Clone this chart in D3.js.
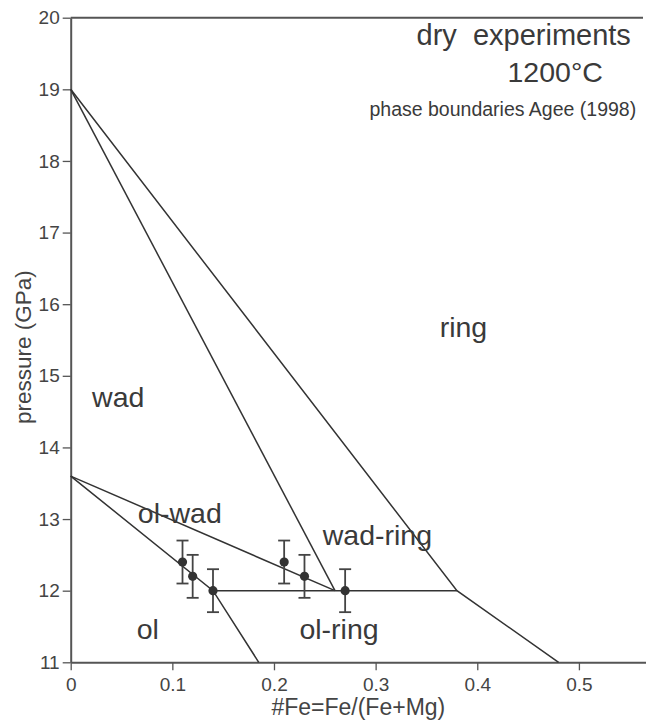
<!DOCTYPE html>
<html>
<head>
<meta charset="utf-8">
<script src="https://cdn.jsdelivr.net/npm/d3@7"></script>
<style>
  body { margin: 0; background: #fff; }
  svg { display: block; font-family: "Liberation Sans", Arial, Helvetica, sans-serif; }
  .axis path, .axis line { stroke: #555; }
  .axis text { fill: #444; font-size: 19px; }
</style>
</head>
<body>
<div id="chart"></div>
<script>
// phase boundaries (Agee 1998), #Fe vs pressure
let ringUpperFe = [0, 0.38, 0.48];
let ringUpperP = [19, 12, 11];
let wadRingFe = [0, 0.26];
let wadRingP = [19, 12];
let olWadFe = [0, 0.26];
let olWadP = [13.6, 12];
let olLowerFe = [0, 0.14, 0.185];
let olLowerP = [13.6, 12, 11];
let isobarFe = [0.14, 0.38];
let isobarP = [12, 12];

// dry experiments
let expFe = [0.11, 0.12, 0.14, 0.21, 0.23, 0.27];
let expP = [12.4, 12.2, 12.0, 12.4, 12.2, 12.0];
let expErr = [0.3, 0.3, 0.3, 0.3, 0.3, 0.3];

let xTicks = [0, 0.1, 0.2, 0.3, 0.4, 0.5];
let yTicks = [11, 12, 13, 14, 15, 16, 17, 18, 19, 20];

let regionNames = ["wad", "ol-wad", "wad-ring", "ring", "ol", "ol-ring"];
let regionFe = [0.021, 0.066, 0.248, 0.363, 0.065, 0.225];
let regionP = [14.56, 12.94, 12.64, 15.54, 11.32, 11.32];

// set the dimensions and margins of the graph
let margin = { top: 17.7, right: 0, bottom: 59.7, left: 70.7 };
let totalW = 646, totalH = 722;
let width = totalW - margin.left - margin.right;
let height = totalH - margin.top - margin.bottom;

let svg = d3.select("#chart").append("svg")
    .attr("width", totalW)
    .attr("height", totalH)
    .append("g")
    .attr("transform", "translate(" + margin.left + "," + margin.top + ")");

let x = d3.scaleLinear().domain([0, 0.566]).range([0, width]);
let y = d3.scaleLinear().domain([11, 20]).range([height, 0]);

// axes
svg.append("g")
    .attr("class", "axis")
    .attr("transform", "translate(0," + height + ")")
    .call(d3.axisBottom(x).tickValues(xTicks).tickSize(8).tickSizeOuter(0).tickPadding(7)
        .tickFormat(d => d === 0 ? "0" : d3.format(".1f")(d)));

svg.append("g")
    .attr("class", "axis")
    .call(d3.axisLeft(y).tickValues(yTicks).tickSize(8).tickSizeOuter(0).tickPadding(3));

svg.selectAll(".axis path").attr("stroke-width", 2);
svg.selectAll(".axis line").attr("stroke-width", 1.3);

// top frame
svg.append("line")
    .attr("x1", x(0)).attr("x2", width - 3)
    .attr("y1", y(20)).attr("y2", y(20))
    .attr("stroke", "#555").attr("stroke-width", 2);

// boundaries
let line = d3.line().x(d => x(d[0])).y(d => y(d[1]));
let boundaries = [
    [ringUpperFe, ringUpperP],
    [wadRingFe, wadRingP],
    [olWadFe, olWadP],
    [olLowerFe, olLowerP],
    [isobarFe, isobarP]
];
svg.selectAll(".boundary")
    .data(boundaries.map(b => b[0].map((f, i) => [f, b[1][i]])))
    .join("path")
    .attr("class", "boundary")
    .attr("d", line)
    .attr("fill", "none")
    .attr("stroke", "#333")
    .attr("stroke-width", 1.5);

// experiments with error bars
let pts = expFe.map((f, i) => ({ fe: f, p: expP[i], e: expErr[i] }));
let bars = svg.selectAll(".err").data(pts).join("g").attr("class", "err")
    .attr("stroke", "#444").attr("stroke-width", 1.8);
bars.append("line")
    .attr("x1", d => x(d.fe)).attr("x2", d => x(d.fe))
    .attr("y1", d => y(d.p + d.e)).attr("y2", d => y(d.p - d.e));
bars.append("line")
    .attr("x1", d => x(d.fe) - 6).attr("x2", d => x(d.fe) + 6)
    .attr("y1", d => y(d.p + d.e)).attr("y2", d => y(d.p + d.e));
bars.append("line")
    .attr("x1", d => x(d.fe) - 6).attr("x2", d => x(d.fe) + 6)
    .attr("y1", d => y(d.p - d.e)).attr("y2", d => y(d.p - d.e));
svg.selectAll(".pt").data(pts).join("circle")
    .attr("class", "pt")
    .attr("cx", d => x(d.fe)).attr("cy", d => y(d.p))
    .attr("r", 4.6)
    .attr("fill", "#333");

// region labels
svg.selectAll(".region").data(regionNames).join("text")
    .attr("class", "region")
    .attr("x", (d, i) => x(regionFe[i]))
    .attr("y", (d, i) => y(regionP[i]))
    .attr("font-size", 28.5)
    .attr("fill", "#3a3a3a")
    .text(d => d);

// title block
svg.append("text")
    .attr("x", 453).attr("y", 27)
    .attr("text-anchor", "middle")
    .attr("font-size", 29)
    .attr("fill", "#3a3a3a")
    .style("white-space", "pre")
    .text("dry  experiments");
svg.append("text")
    .attr("x", 484.5).attr("y", 64.5)
    .attr("text-anchor", "middle")
    .attr("font-size", 28.5)
    .attr("fill", "#3a3a3a")
    .text("1200°C");
svg.append("text")
    .attr("x", 565.5).attr("y", 98.5)
    .attr("text-anchor", "end")
    .attr("font-size", 19.5)
    .attr("fill", "#3a3a3a")
    .text("phase boundaries Agee (1998)");

// axis titles
svg.append("text")
    .attr("x", x(0.283)).attr("y", height + 53)
    .attr("text-anchor", "middle")
    .attr("font-size", 23)
    .attr("fill", "#444")
    .text("#Fe=Fe/(Fe+Mg)");
svg.append("text")
    .attr("transform", "translate(" + (-40) + "," + y(15.4) + ") rotate(-90)")
    .attr("text-anchor", "middle")
    .attr("font-size", 22.5)
    .attr("fill", "#444")
    .text("pressure (GPa)");
</script>
</body>
</html>
